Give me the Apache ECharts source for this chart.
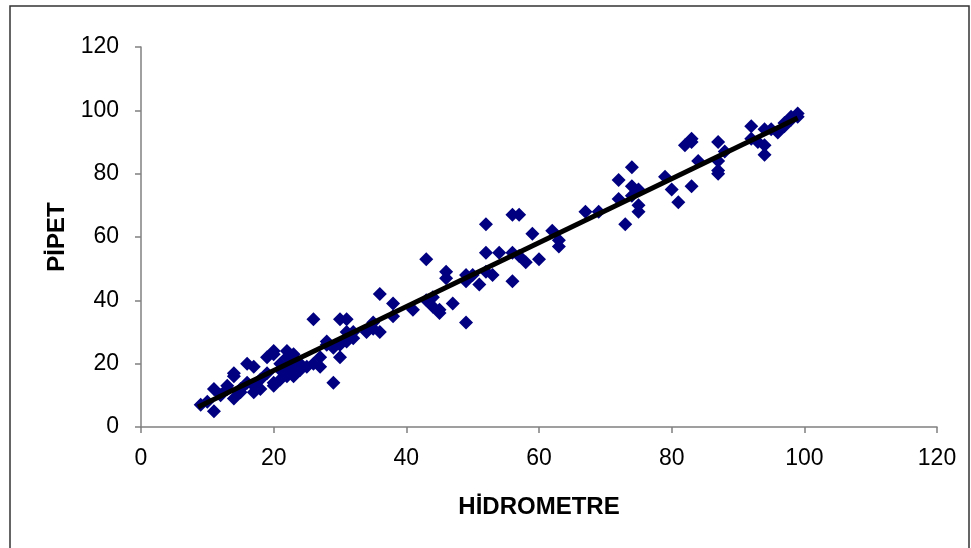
<!DOCTYPE html>
<html>
<head>
<meta charset="utf-8">
<script src="https://cdn.jsdelivr.net/npm/echarts@6/dist/echarts.min.js"></script>
<style>
  html, body { margin: 0; padding: 0; background: #fff; }
  #chart { width: 971px; height: 548px; }
</style>
</head>
<body>
<div id="chart"></div>
<script>
// hidrometre values (x) and pipet values (y)
var hidrometre = [9, 10, 11, 11, 12, 13, 13, 14, 14, 14, 15, 15, 16, 16, 17, 17, 17, 18, 18, 19,
  19, 20, 20, 20, 20, 21, 21, 21, 22, 22, 22, 22, 23, 23, 23, 23, 24, 24, 25, 26,
  26, 27, 27, 28, 28, 29, 29, 30, 30, 30, 31, 31, 31, 32, 32, 34, 35, 35, 36, 36,
  38, 38, 41, 43, 43, 44, 44, 45, 45, 46, 46, 47, 49, 49, 49, 50, 51, 52, 52, 52,
  53, 54, 56, 56, 56, 57, 57, 58, 59, 60, 62, 63, 63, 67, 69, 72, 72, 73, 74, 74,
  74, 75, 75, 75, 79, 80, 81, 82, 83, 83, 83, 84, 87, 87, 87, 87, 88, 92, 92, 93,
  94, 94, 94, 95, 96, 97, 97, 98, 98, 99, 99];
var pipet = [7, 8, 5, 12, 10, 12, 13, 9, 16, 17, 11, 12, 14, 20, 11, 13, 19, 12, 15, 17,
  22, 13, 14, 23, 24, 15, 18, 20, 16, 19, 22, 24, 16, 18, 21, 23, 18, 20, 19, 20,
  34, 19, 22, 27, 26, 14, 25, 22, 26, 34, 27, 30, 34, 28, 30, 30, 31, 33, 30, 42,
  35, 39, 37, 53, 40, 38, 41, 36, 37, 47, 49, 39, 33, 46, 48, 48, 45, 64, 55, 49,
  48, 55, 67, 46, 55, 67, 54, 52, 61, 53, 62, 57, 59, 68, 68, 78, 72, 64, 82, 76,
  73, 75, 70, 68, 79, 75, 71, 89, 90, 91, 76, 84, 80, 81, 84, 90, 87, 95, 91, 90,
  94, 89, 86, 94, 93, 95, 96, 97, 98, 98, 99];
// trend line end points
var trendX = [8.6, 99];
var trendY = [6.3, 97.6];
var xTicks = [0, 20, 40, 60, 80, 100, 120];

var points = hidrometre.map(function (v, i) { return [v, pipet[i]]; });
var trend = trendX.map(function (v, i) { return [v, trendY[i]]; });

var chart = echarts.init(document.getElementById('chart'));
chart.setOption({
  animation: false,
  backgroundColor: '#fff',
  textStyle: { fontFamily: 'Liberation Sans, Arial, sans-serif' },
  grid: { left: 141, right: 34, top: 47, bottom: 121 },
  graphic: [{
    type: 'rect',
    shape: { x: 10, y: 6, width: 959, height: 560 },
    style: { fill: 'none', stroke: '#333', lineWidth: 1.5 },
    silent: true
  }],
  xAxis: {
    type: 'value',
    min: xTicks[0],
    max: xTicks[xTicks.length - 1],
    interval: 20,
    name: 'HİDROMETRE',
    nameLocation: 'middle',
    nameGap: 68,
    nameTextStyle: { fontSize: 24, fontWeight: 'bold', color: '#000' },
    axisLine: { lineStyle: { color: '#808080', width: 1.5 } },
    axisTick: { length: 6, lineStyle: { color: '#808080', width: 1.5 } },
    axisLabel: { fontSize: 23, color: '#000', margin: 20 },
    splitLine: { show: false }
  },
  yAxis: {
    type: 'value',
    min: 0,
    max: 120,
    interval: 20,
    name: 'PİPET',
    nameLocation: 'middle',
    nameGap: 72,
    nameTextStyle: { fontSize: 24, fontWeight: 'bold', color: '#000' },
    axisLine: { show: true, lineStyle: { color: '#808080', width: 1.5 } },
    axisTick: { show: true, length: 6, lineStyle: { color: '#808080', width: 1.5 } },
    axisLabel: { fontSize: 23, color: '#000', margin: 22 },
    splitLine: { show: false }
  },
  series: [
    {
      type: 'scatter',
      data: points,
      symbol: 'diamond',
      symbolSize: 14,
      itemStyle: { color: '#000080', opacity: 1 }
    },
    {
      type: 'line',
      data: trend,
      symbol: 'none',
      lineStyle: { color: '#000', width: 5 }
    }
  ]
});
</script>
</body>
</html>
